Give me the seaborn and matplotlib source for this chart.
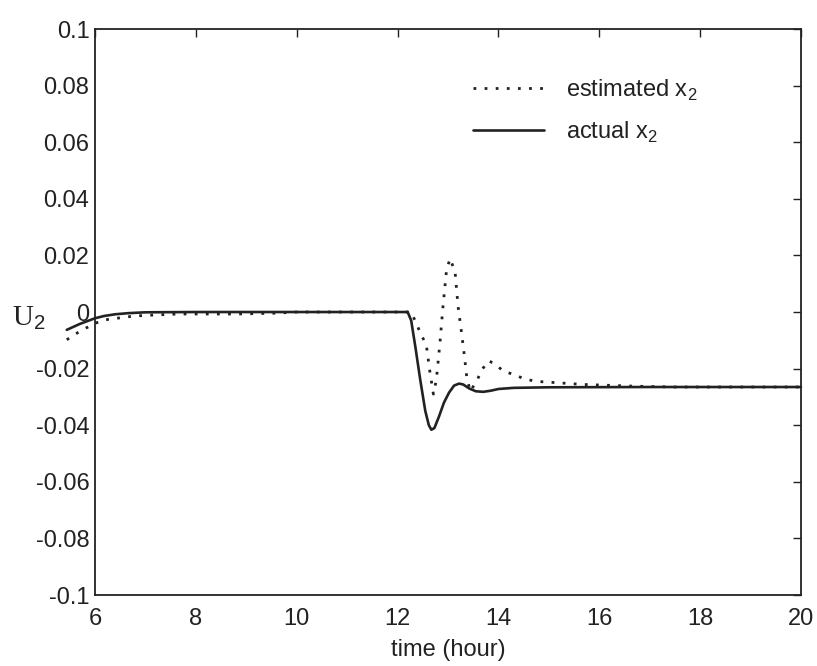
import numpy as np
import pandas as pd
import seaborn as sns
import matplotlib
matplotlib.use("Agg")
import matplotlib.pyplot as plt

# actual x2 (solid)
t_actual = [5.44, 5.7, 6.0, 6.18, 6.4, 6.66, 7.0, 8.0, 10.0, 12.2, 12.27, 12.35, 12.45,
            12.55, 12.62, 12.67, 12.73, 12.82, 12.92, 13.02, 13.12, 13.22, 13.3,
            13.42, 13.55, 13.7, 13.85, 14.0, 14.3, 15.0, 17.0, 20.0]
u_actual = [-0.0063, -0.0042, -0.0022, -0.0014, -0.0008, -0.0004, -0.0001, 0.0, 0.0, 0.0,
            -0.003, -0.012, -0.024, -0.035, -0.040, -0.0416, -0.041, -0.037, -0.032,
            -0.0285, -0.026, -0.0253, -0.0256, -0.027, -0.028, -0.0282, -0.0278,
            -0.0272, -0.0268, -0.0266, -0.0265, -0.0265]

# estimated x2 (dotted)
t_est = [5.44, 5.7, 6.0, 6.18, 6.48, 6.78, 7.12, 7.66, 8.8, 9.6, 10.0, 12.27, 12.37,
         12.47, 12.57, 12.64, 12.71, 12.77, 12.84, 12.9, 12.97, 13.04, 13.14, 13.2,
         13.27, 13.33, 13.37, 13.44, 13.57, 13.67, 13.81, 13.94, 14.11, 14.31, 14.51,
         14.74, 15.18, 15.68, 16.68, 17.5, 20.0]
u_est = [-0.0098, -0.0068, -0.0040, -0.0028, -0.0021, -0.0014, -0.0011, -0.0007,
         -0.0007, -0.0004, 0.0, 0.0, -0.0040, -0.0081, -0.0116, -0.0210, -0.0290,
         -0.0239, -0.0109, 0.0019, 0.0147, 0.0189, 0.0142, 0.0019, -0.0075, -0.0162,
         -0.0227, -0.0280, -0.0244, -0.0204, -0.0172, -0.0186, -0.0210, -0.0221,
         -0.0236, -0.0245, -0.0250, -0.0256, -0.0262, -0.0265, -0.0265]

x_ticks = [6, 8, 10, 12, 14, 16, 18, 20]
y_ticks = [-0.1, -0.08, -0.06, -0.04, -0.02, 0, 0.02, 0.04, 0.06, 0.08, 0.1]
y_ticklabels = ["-0.1", "-0.08", "-0.06", "-0.04", "-0.02", "0", "0.02", "0.04",
                "0.06", "0.08", "0.1"]

sns.set_style("white")
plt.rcParams["font.family"] = ["Liberation Sans", "DejaVu Sans"]
plt.rcParams["mathtext.fontset"] = "custom"
plt.rcParams["mathtext.rm"] = "Liberation Sans"

est = pd.DataFrame({"t": t_est, "u": u_est})
act = pd.DataFrame({"t": t_actual, "u": u_actual})

fig = plt.figure(figsize=(8.17, 6.66), dpi=100)
ax = fig.add_axes([0.1163, 0.1066, 0.8641, 0.8498])

sns.lineplot(data=est, x="t", y="u", ax=ax, color="#222222", lw=2.0,
             linestyle=(0, (1, 3)), label="estimated x$_2$", clip_on=False)
sns.lineplot(data=act, x="t", y="u", ax=ax, color="#222222", lw=1.9,
             label="actual x$_2$", clip_on=False)

ax.set_xlim(6, 20)
ax.set_ylim(-0.1, 0.1)
ax.set_xticks(x_ticks)
ax.set_xticklabels([str(v) for v in x_ticks])
ax.set_yticks(y_ticks)
ax.set_yticklabels(y_ticklabels)
ax.tick_params(direction="in", length=6, width=1, top=True, right=True,
               labelsize=17, colors="#222222")
ax.tick_params(axis="x", pad=9)
ax.tick_params(axis="y", pad=4)

for s in ax.spines.values():
    s.set_color("#222222")
    s.set_linewidth(1.3)

ax.set_xlabel("time (hour)", fontsize=17, color="#222222", labelpad=7)
ax.set_ylabel("U$_2$", fontsize=21, rotation=0, family="Liberation Serif",
              color="#222222")
ax.yaxis.set_label_coords(-0.094, 0.465)

leg = ax.legend(loc="upper left", bbox_to_anchor=(0.506, 0.952), frameon=False,
                fontsize=17, handlelength=3.0, handletextpad=0.9,
                labelspacing=0.72)
for txt in leg.get_texts():
    txt.set_color("#222222")

fig.savefig("out.png", dpi=100)
